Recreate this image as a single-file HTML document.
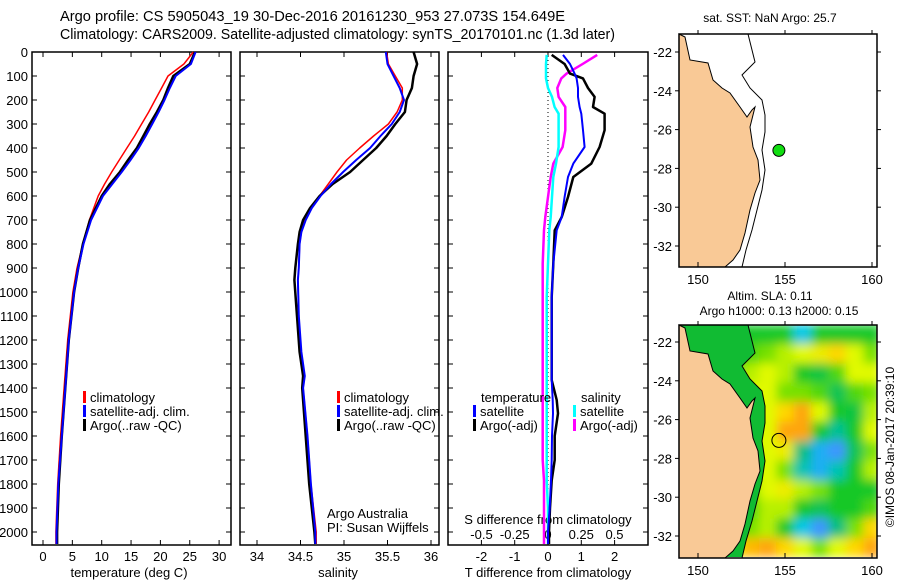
<!DOCTYPE html>
<html><head><meta charset="utf-8"><style>
body{margin:0;background:#fff;}
svg{display:block;font-family:"Liberation Sans",sans-serif;}
</style></head><body>
<svg id="fig" width="900" height="580" viewBox="0 0 900 580" xmlns="http://www.w3.org/2000/svg">
<defs>
<filter id="blur" x="0" y="0" width="1" height="1"><feGaussianBlur stdDeviation="5"/></filter>
<clipPath id="clipMap2"><rect x="679" y="325" width="198" height="232"/></clipPath>
<clipPath id="clipMap1"><rect x="679" y="34" width="198" height="233"/></clipPath>
</defs>
<text x="60" y="21" font-size="14.4" textLength="505" lengthAdjust="spacingAndGlyphs">Argo profile: CS 5905043_19 30-Dec-2016 20161230_953 27.073S 154.649E</text>
<text x="60" y="39" font-size="14.4" textLength="555" lengthAdjust="spacingAndGlyphs">Climatology: CARS2009. Satellite-adjusted climatology: synTS_20170101.nc (1.3d later)</text>
<g id="p1"></g>
<g id="p2"></g>
<g id="p3"></g>
<g id="m1"></g>
<g id="m2"></g>
</svg>
<script>
// ---- data ----
const depthTicks = [0,100,200,300,400,500,600,700,800,900,1000,1100,1200,1300,1400,1500,1600,1700,1800,1900,2000];
const tempTicks = [0,5,10,15,20,25,30];
const salTicks = [34,34.5,35,35.5,36];
const salTickLabels = ["34","34.5","35","35.5","36"];
const tdiffTicks = [-2,-1,0,1,2];
const sdiffTicks = [-0.5,-0.25,0,0.25,0.5];
const sdiffTickLabels = ["-0.5","-0.25","0","0.25","0.5"];

const tDepth = [0,50,100,150,200,250,300,350,400,450,500,550,600,700,800,900,1000,1200,1400,1600,1800,2000,2050];
const tArgo = [25.9,25.0,22.2,21.3,20.5,19.4,18.2,17.1,16.0,14.5,13.1,11.4,10.0,8.0,6.8,6.0,5.3,4.4,3.8,3.2,2.7,2.4,2.4];
const tClim = [25.6,24.0,21.3,20.2,19.1,18.0,16.8,15.6,14.3,13.0,11.7,10.5,9.4,7.9,6.8,5.8,5.1,4.2,3.6,3.0,2.5,2.2,2.2];
const tSat  = [26.0,25.2,22.6,21.6,20.7,19.7,18.6,17.5,16.3,14.9,13.4,11.8,10.2,8.2,6.9,6.0,5.3,4.4,3.8,3.2,2.6,2.3,2.3];

const sDepth = [0,50,100,150,200,250,300,350,400,450,500,550,600,650,700,750,800,900,950,1100,1250,1350,1400,1600,1800,2000,2050];
const sArgo = [35.80,35.84,35.80,35.78,35.72,35.70,35.59,35.49,35.37,35.22,35.07,34.87,34.72,34.61,34.53,34.49,34.47,34.44,34.43,34.46,34.49,34.53,34.52,34.56,34.60,34.66,34.67];
const sClim = [35.49,35.51,35.59,35.67,35.67,35.61,35.51,35.34,35.18,35.03,34.92,34.82,34.72,34.63,34.55,34.51,34.49,34.48,34.47,34.48,34.50,34.54,34.53,34.58,34.62,34.68,34.68];
const sSat  = [35.48,35.50,35.57,35.64,35.69,35.64,35.55,35.42,35.30,35.14,34.99,34.85,34.73,34.63,34.56,34.51,34.49,34.48,34.47,34.48,34.51,34.55,34.53,34.58,34.62,34.67,34.67];

const dDepth = [12,50,90,110,150,187,229,257,326,396,465,521,604,688,743,882,1021,1200,1367,1450,1506,1600,1700,1785,1900,2000,2050];
const dTArgo = [0.11,0.5,0.66,1.05,1.2,1.4,1.35,1.7,1.7,1.55,1.3,0.76,0.6,0.41,0.2,0.16,0.11,0.11,0.11,0.26,0.3,0.2,0.2,0.11,0.06,0.03,0.03];
const dTSat  = [0.45,0.66,0.8,0.86,0.9,0.9,0.95,1.0,1.05,1.1,0.76,0.6,0.5,0.41,0.26,0.16,0.11,0.11,0.11,0.14,0.15,0.12,0.11,0.09,0.05,0.0,0.0];
const dSArgo = [0.37,0.26,0.14,0.1,0.07,0.08,0.13,0.13,0.13,0.11,0.04,0.02,0.0,-0.02,-0.03,-0.04,-0.04,-0.04,-0.04,-0.04,-0.04,-0.04,-0.04,-0.03,-0.03,-0.03,-0.03];
const dSSat  = [-0.01,-0.015,-0.015,-0.015,0.0,0.03,0.05,0.08,0.08,0.08,0.06,0.04,0.03,0.02,0.01,0.0,-0.01,-0.01,-0.01,-0.01,-0.01,-0.01,-0.01,-0.01,0.0,0.0,0.0];

const lonTicks = [150,155,160];
const latTicks = [-22,-24,-26,-28,-30,-32];
const slaLon = [149,150,151,152,153,154,155,156,157,158,159,160];
const slaLat = [-21.6,-22.6,-23.6,-24.6,-25.6,-26.6,-27.6,-28.6,-29.6,-30.6,-31.6,-32.6];
const slaGrid = [
 [0,0,0,0,0,0,0,-0.2,0,0,0,0],
 [0,0,0,0,0.03,0.05,0.08,0.1,0.12,0.15,0.1,0.05],
 [0,0,0,0,0.08,0.1,0.08,0.0,-0.03,0.03,0.1,0.1],
 [0,0,0,0,0.1,0.1,0.05,0.05,0.03,-0.05,0.03,0.05],
 [0,0,0,0,0.1,0.1,0.15,0.2,0.1,0,-0.03,0.08],
 [0,0,0,0,0.08,0.1,0.22,0.2,0,-0.12,0.0,0.1],
 [0,0,0,0,0.08,0.1,0.12,-0.1,-0.25,-0.3,-0.05,0.05],
 [0,0,0,0,0.08,0.1,0.05,-0.15,-0.25,-0.15,0.0,0.08],
 [0,0,0,0,0.05,0.1,0.12,0.08,0.05,0.0,0,0],
 [0,0,0,0,0.03,0.08,0.08,0,-0.05,0,0,0.03],
 [0,0,0,0,0.05,0.08,0.0,-0.2,-0.3,-0.1,0.05,0.15],
 [0,0,0,0.12,0.18,0.2,0.15,0.1,0.05,0.1,0.15,0.2]
];
const floatLon = 154.649;
const floatLat = -27.073;

// ---- drawing ----
const NS='http://www.w3.org/2000/svg';
function mk(parent,tag,attrs,txt){const e=document.createElementNS(NS,tag);for(const k in attrs)e.setAttribute(k,attrs[k]);if(txt!==undefined)e.textContent=txt;parent.appendChild(e);return e;}
const yD = d => 52 + d*0.24;
const pTop=52, pBot=545;

function frame(g,x0,x1){
  const r=mk(g,'rect',{x:x0,y:pTop,width:x1-x0,height:pBot-pTop,fill:'none',stroke:'#000','stroke-width':1.5});
  
  
  depthTicks.forEach(d=>{
    mk(g,'line',{x1:x0,x2:x0+5,y1:yD(d),y2:yD(d),stroke:'#000'});
    mk(g,'line',{x1:x1,x2:x1-5,y1:yD(d),y2:yD(d),stroke:'#000'});
  });
}
function line(g,xs,ds,xf,col,w,name){
  const pts=xs.map((v,i)=>xf(v).toFixed(1)+','+yD(ds[i]).toFixed(1)).join(' ');
  const p=mk(g,'polyline',{points:pts,fill:'none',stroke:col,'stroke-width':w,'stroke-linejoin':'round'});
  
  
}
function legend(g,x,y,col,label,name){
  mk(g,'rect',{x:x,y:y-11,width:3,height:12,fill:col});
  const t=mk(g,'text',{x:x+7,y:y,'font-size':13},label);
  
  
}

// panel 1
const g1=document.getElementById('p1');
const xT = v => 43 + v*5.87;
frame(g1,32,231);
depthTicks.forEach(d=>{const t=mk(g1,'text',{x:28,y:yD(d)+5,'font-size':13,'text-anchor':'end'},String(d));
  
  });
tempTicks.forEach(v=>{mk(g1,'line',{x1:xT(v),x2:xT(v),y1:pBot,y2:pBot-5,stroke:'#000'});mk(g1,'line',{x1:xT(v),x2:xT(v),y1:pTop,y2:pTop+5,stroke:'#000'});
  const t=mk(g1,'text',{x:xT(v),y:561,'font-size':13,'text-anchor':'middle'},String(v));
  
  });
mk(g1,'text',{x:129,y:577,'font-size':13,'text-anchor':'middle',},'temperature (deg C)');
line(g1,tClim,tDepth,xT,'#f00',1.5,'temp-climatology-line');
line(g1,tArgo,tDepth,xT,'#000',2.5,'temp-argo-line');
line(g1,tSat,tDepth,xT,'#00f',2,'temp-satellite-line');
legend(g1,83,402,'#f00','climatology','legend-climatology');
legend(g1,83,416,'#00f','satellite-adj. clim.','legend-satellite');
legend(g1,83,430,'#000','Argo(..raw -QC)','legend-argo');

// panel 2
const g2=document.getElementById('p2');
const xS = v => 257 + (v-34)*87;
frame(g2,240,439);
salTicks.forEach((v,i)=>{mk(g2,'line',{x1:xS(v),x2:xS(v),y1:pBot,y2:pBot-5,stroke:'#000'});mk(g2,'line',{x1:xS(v),x2:xS(v),y1:pTop,y2:pTop+5,stroke:'#000'});
  const t=mk(g2,'text',{x:xS(v),y:561,'font-size':13,'text-anchor':'middle'},salTickLabels[i]);
  
  });
mk(g2,'text',{x:338,y:577,'font-size':13,'text-anchor':'middle',},'salinity');
line(g2,sClim,sDepth,xS,'#f00',1.5,'sal-climatology-line');
line(g2,sArgo,sDepth,xS,'#000',2.5,'sal-argo-line');
line(g2,sSat,sDepth,xS,'#00f',2,'sal-satellite-line');
legend(g2,337,402,'#f00','climatology','legend-climatology');
legend(g2,337,416,'#00f','satellite-adj. clim.','legend-satellite');
legend(g2,337,430,'#000','Argo(..raw -QC)','legend-argo');
mk(g2,'text',{x:327,y:518,'font-size':13,},'Argo Australia');
mk(g2,'text',{x:327,y:532,'font-size':13,},'PI: Susan Wijffels');

// panel 3
const g3=document.getElementById('p3');
const xDT = v => 548 + v*33.3;
const xDS = v => 548 + v*133;
frame(g3,448,648);
mk(g3,'line',{x1:548,x2:548,y1:pTop,y2:pBot,stroke:'#000','stroke-dasharray':'1,3'});
tdiffTicks.forEach(v=>{mk(g3,'line',{x1:xDT(v),x2:xDT(v),y1:pBot,y2:pBot-5,stroke:'#000'});mk(g3,'line',{x1:xDT(v),x2:xDT(v),y1:pTop,y2:pTop+5,stroke:'#000'});
  const t=mk(g3,'text',{x:xDT(v),y:561,'font-size':13,'text-anchor':'middle'},String(v));
  
  });
sdiffTicks.forEach((v,i)=>{const t=mk(g3,'text',{x:xDS(v),y:539,'font-size':13,'text-anchor':'middle'},sdiffTickLabels[i]);
  
  });
mk(g3,'text',{x:548,y:524,'font-size':13,'text-anchor':'middle',},'S difference from climatology');
mk(g3,'text',{x:548,y:577,'font-size':13,'text-anchor':'middle',},'T difference from climatology');
line(g3,dSArgo,dDepth,xDS,'#f0f',2.5,'sdiff-argo-line');
line(g3,dSSat,dDepth,xDS,'#0ff',2.5,'sdiff-satellite-line');
line(g3,dTArgo,dDepth,xDT,'#000',2.5,'tdiff-argo-line');
line(g3,dTSat,dDepth,xDT,'#00f',2,'tdiff-satellite-line');
mk(g3,'text',{x:481,y:402,'font-size':13,},'temperature');
legend(g3,473,416,'#00f','satellite','legend-t-satellite');
legend(g3,473,430,'#000','Argo(-adj)','legend-t-argo');
mk(g3,'text',{x:581,y:402,'font-size':13,},'salinity');
legend(g3,573,416,'#0ff','satellite','legend-s-satellite');
legend(g3,573,430,'#f0f','Argo(-adj)','legend-s-argo');

// maps
const xL = v => 698 + (v-150)*17.4;
const coast = [[679,34],[685,37],[690,60],[708,63],[713,80],[722,88],[730,93],[740,107],[747,117],[752,110],[755,107],[753,115],[750,127],[753,147],[758,160],[760,180],[755,193],[750,210],[745,233],[740,250],[733,260],[725,267],[679,267]];
const contour = [[748,34],[752,50],[755,62],[742,75],[750,88],[762,100],[765,115],[765,132],[762,150],[765,170],[762,190],[757,210],[752,230],[746,250],[742,267]];
function slaColor(v){
  const stops=[[-0.3,[60,150,255]],[-0.2,[0,200,230]],[-0.1,[0,190,130]],[0,[20,200,40]],[0.05,[120,225,0]],[0.1,[225,250,0]],[0.15,[255,215,0]],[0.2,[255,165,10]]];
  if(v<=stops[0][0])return 'rgb('+stops[0][1]+')';
  for(let i=1;i<stops.length;i++){if(v<=stops[i][0]){const a=stops[i-1],b=stops[i];const t=(v-a[0])/(b[0]-a[0]);
    return 'rgb('+a[1].map((c,k)=>Math.round(c+(b[1][k]-c)*t)).join(',')+')';}}
  return 'rgb('+stops[stops.length-1][1]+')';
}
function mapPanel(g,y0,yLat,clip,isSLA){
  const yl = v => yLat + (-22 - v)*19.4;
  const off=y0-34;
  if(isSLA){
    const cg=mk(g,'g',{'clip-path':'url(#'+clip+')'});
    const hg=mk(cg,'g',{filter:'url(#blur)'});
    mk(hg,'rect',{x:679,y:y0,width:198,height:232,fill:'#22cc22'});
    slaGrid.forEach((row,r)=>row.forEach((v,c)=>{
      const cell=mk(hg,'rect',{x:xL(slaLon[c]-0.5),y:yl(slaLat[r]+0.5),width:17.6,height:19.6,fill:slaColor(v)});
      
      
    }));
    mk(cg,'polygon',{points:contour.map(p=>p[0]+','+(p[1]+off)).join(' ')+' 679,'+(y0+240)+' 679,'+y0,fill:'#11bb33'});
  }
  const land=mk(g,'polygon',{points:coast.map(p=>p[0]+','+(p[1]+off)).join(' '),fill:'#f9c996',stroke:'#000','stroke-width':1});
  
  
  mk(g,'polyline',{points:contour.map(p=>p[0]+','+(p[1]+off)).join(' '),fill:'none',stroke:'#000','stroke-width':1});
  mk(g,'rect',{x:679,y:y0,width:198,height:233,fill:'none',stroke:'#000','stroke-width':1.5});
  lonTicks.forEach(v=>{mk(g,'line',{x1:xL(v),x2:xL(v),y1:y0+233,y2:y0+228,stroke:'#000'});mk(g,'line',{x1:xL(v),x2:xL(v),y1:y0,y2:y0-4,stroke:'#000'});
    const t=mk(g,'text',{x:xL(v),y:y0+250,'font-size':13,'text-anchor':'middle'},String(v));
    
    });
  latTicks.forEach(v=>{mk(g,'line',{x1:679,x2:675,y1:yl(v),y2:yl(v),stroke:'#000'});mk(g,'line',{x1:877,x2:881,y1:yl(v),y2:yl(v),stroke:'#000'});
    const t=mk(g,'text',{x:672,y:yl(v)+5,'font-size':13,'text-anchor':'end'},String(v));
    
    });
  const fl=mk(g,'circle',{cx:xL(floatLon),cy:yl(floatLat),r:isSLA?7:6,fill:isSLA?'none':'#11dd11',stroke:'#000','stroke-width':1});
  
  
}
const gm1=document.getElementById('m1');
mapPanel(gm1,34,52,'clipMap1',false);
mk(gm1,'text',{x:770,y:22,'font-size':12,'text-anchor':'middle',},'sat. SST: NaN Argo: 25.7');
const gm2=document.getElementById('m2');
mapPanel(gm2,325,342,'clipMap2',true);
mk(gm2,'text',{x:770,y:300,'font-size':12,'text-anchor':'middle',},'Altim. SLA: 0.11');
mk(gm2,'text',{x:779,y:315,'font-size':12,'text-anchor':'middle',},'Argo h1000: 0.13 h2000: 0.15');
mk(gm2,'text',{x:0,y:0,'font-size':12,'text-anchor':'middle',transform:'translate(894,447) rotate(-90)',},'©IMOS 08-Jan-2017 20:39:10');
</script>
</body></html>
